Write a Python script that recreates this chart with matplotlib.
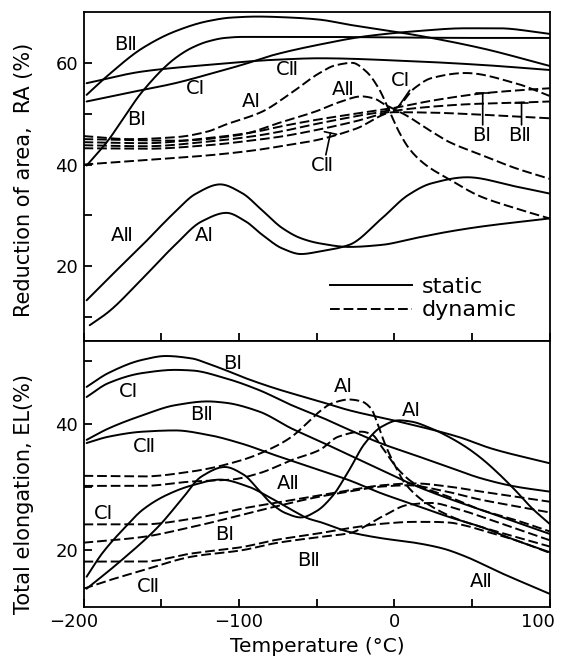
import numpy as np
import matplotlib
matplotlib.use("Agg")
import matplotlib.pyplot as plt
from matplotlib.lines import Line2D
from matplotlib.transforms import ScaledTranslation

# ---------------- Top panel: Reduction of area RA (%) ----------------
# static
ra_BII_s_T = [-198, -184, -162, -141, -120, -105, -88, -66, -48, -29, 13, 56, 100]
ra_BII_s = [53.7, 57.6, 62.9, 66.2, 68.2, 68.9, 69.1, 68.9, 68.5, 67.5, 65.5, 62.9, 59.4]
ra_BI_s_T = [-198, -184, -175, -162, -141, -130, -120, -109, -98, -50, 0, 50, 100]
ra_BI_s = [39.8, 44.8, 48.8, 54.4, 60.9, 63.0, 64.2, 64.9, 65.1, 65.1, 65.0, 64.9, 64.9]
ra_CII_s_T = [-198, -162, -120, -77, -48, 13, 56, 100]
ra_CII_s = [56.0, 58.3, 59.6, 60.6, 60.9, 60.3, 59.6, 58.6]
ra_CI_s_T = [-198, -173, -141, -120, -98, -77, -48, -19, 13, 46, 67, 100]
ra_CI_s = [52.4, 54.0, 56.0, 57.7, 59.6, 61.6, 63.6, 65.2, 66.2, 66.8, 66.8, 65.7]
ra_AII_s_T = [-198, -184, -162, -141, -128, -112, -98, -85, -72, -60, -48, -29, -8, 13, 35, 56, 100]
ra_AII_s = [13.3, 17.6, 24.2, 30.7, 34.2, 36.1, 34.4, 31.0, 27.5, 25.5, 24.5, 23.8, 24.2, 25.5, 26.8, 27.8, 29.4]
ra_AI_s_T = [-196, -184, -162, -141, -124, -108, -96, -85, -72, -60, -48, -29, -8, 9, 24, 47, 78, 100]
ra_AI_s = [8.4, 11.0, 17.6, 24.2, 28.8, 30.5, 28.9, 26.2, 23.5, 22.4, 22.9, 24.2, 29.4, 34.0, 36.3, 37.5, 35.7, 34.3]
# dynamic
ra_AI_d_T = [-200, -170, -140, -120, -109, -85, -68, -48, -38, -27, -18, -10, -3, 3, 10, 20, 36, 55, 77, 100]
ra_AI_d = [45.6, 45.0, 45.4, 46.5, 47.8, 50.4, 53.7, 58.0, 59.5, 60.0, 58.3, 55.0, 50.5, 46.5, 43.0, 40.0, 37.0, 33.8, 31.5, 29.4]
ra_AII_d_T = [-200, -140, -100, -73, -50, -35, -21, -13, -6, 0, 7, 24, 35, 56, 78, 100]
ra_AII_d = [45.0, 44.7, 45.8, 48.3, 50.5, 52.3, 53.4, 53.0, 51.8, 50.9, 49.8, 46.5, 44.5, 41.9, 39.3, 37.2]
ra_CI_d_T = [-200, -160, -120, -90, -73, -50, -25, 1, 13, 24, 46, 78, 100]
ra_CI_d = [43.8, 43.6, 44.5, 45.6, 46.5, 48.0, 49.5, 51.1, 55.0, 57.0, 58.0, 56.0, 53.5]
ra_BI_d_T = [-200, -160, -120, -90, -73, -50, -25, 1, 25, 57, 80, 100]
ra_BI_d = [44.4, 44.2, 45.2, 46.4, 47.5, 48.8, 50.0, 51.2, 52.6, 54.0, 54.6, 55.0]
ra_BII_d_T = [-200, -160, -120, -90, -73, -50, -25, 1, 25, 50, 82, 100]
ra_BII_d = [43.2, 43.1, 43.8, 44.8, 45.5, 46.8, 48.5, 50.6, 51.4, 51.9, 52.2, 52.4]
ra_CII_d_T = [-200, -160, -120, -90, -73, -50, -25, 0, 25, 50, 75, 100]
ra_CII_d = [40.0, 40.9, 41.8, 42.8, 43.6, 44.8, 47.0, 50.3, 50.2, 49.9, 49.5, 49.1]

# ---------------- Bottom panel: Total elongation EL (%) ----------------
el_BI_s_T = [-198, -184, -162, -147, -130, -120, -109, -98, -77, -48, -29, 3, 41, 63, 100]
el_BI_s = [45.9, 48.1, 50.2, 50.8, 50.4, 49.6, 48.6, 47.5, 45.7, 43.6, 42.2, 40.4, 38.0, 36.1, 33.8]
el_CI_s_T = [-198, -184, -162, -141, -130, -109, -87, -66, -48, -29, -8, 13, 35, 56, 78, 100]
el_CI_s = [44.3, 46.5, 48.1, 48.6, 48.5, 47.3, 45.4, 43.0, 41.2, 39.1, 36.9, 35.1, 33.2, 31.4, 30.1, 29.3]
el_BII_s_T = [-198, -184, -162, -141, -120, -109, -87, -66, -48, -29, -8, 13, 35, 56, 78, 100]
el_BII_s = [37.5, 39.3, 41.4, 43.0, 43.6, 43.4, 42.0, 39.3, 37.3, 35.1, 32.7, 30.3, 28.2, 26.4, 24.5, 22.6]
el_CII_s_T = [-198, -184, -162, -141, -120, -98, -77, -48, -29, -8, 13, 35, 56, 78, 100]
el_CII_s = [37.0, 38.0, 38.8, 39.0, 38.3, 36.9, 35.1, 32.7, 31.1, 29.0, 27.2, 25.3, 23.7, 21.6, 19.7]
el_AI_s_T = [-198, -178, -152, -137, -124, -109, -97, -87, -79, -70, -60, -50, -40, -29, -19, -8, 3, 11, 24, 35, 46, 56, 67, 78, 89, 100]
el_AI_s = [13.9, 17.9, 23.7, 28.0, 31.7, 33.2, 32.0, 29.5, 27.4, 25.9, 25.2, 26.2, 28.5, 32.7, 36.9, 39.6, 40.6, 40.4, 39.3, 38.0, 36.4, 34.6, 32.2, 29.5, 26.6, 24.2]
el_AII_s_T = [-198, -188, -173, -162, -147, -130, -112, -94, -81, -66, -55, -48, -29, -8, 13, 31, 46, 67, 100]
el_AII_s = [15.8, 19.5, 23.7, 26.4, 28.7, 30.3, 31.2, 30.1, 28.5, 26.4, 25.0, 24.5, 22.9, 21.9, 21.2, 20.3, 19.0, 16.6, 13.1]
el_AI_d_T = [-200, -162, -130, -98, -77, -66, -55, -48, -40, -29, -21, -15, -10, -6, 1, 7, 20, 40, 60, 80, 100]
el_AI_d = [31.8, 31.7, 32.5, 34.3, 36.4, 38.0, 40.4, 42.0, 43.3, 43.9, 43.6, 42.5, 39.6, 36.9, 33.2, 30.6, 27.6, 25.0, 23.4, 22.0, 20.6]
el_AII_d_T = [-200, -162, -130, -105, -87, -66, -48, -36, -21, -14, -8, 3, 13, 35, 56, 78, 100]
el_AII_d = [30.2, 30.2, 30.9, 31.2, 32.2, 34.3, 35.9, 38.0, 38.8, 38.3, 36.4, 32.7, 30.6, 28.5, 26.4, 24.8, 23.0]
el_CI_d_T = [-200, -162, -130, -98, -77, -48, -29, -8, 13, 35, 56, 78, 100]
el_CI_d = [24.1, 24.1, 25.0, 26.6, 27.5, 28.7, 29.5, 30.3, 30.6, 30.1, 29.3, 28.5, 27.7]
el_BI_d_T = [-200, -162, -130, -98, -77, -48, -29, -8, 9, 30, 56, 78, 100]
el_BI_d = [21.2, 22.1, 23.7, 25.6, 26.9, 28.5, 29.3, 30.1, 30.3, 29.5, 28.0, 27.0, 26.0]
el_BII_d_T = [-200, -162, -130, -98, -77, -48, -29, -8, 13, 24, 35, 46, 56, 78, 100]
el_BII_d = [18.2, 18.2, 19.5, 20.5, 21.6, 22.7, 23.5, 24.2, 24.5, 24.5, 24.4, 23.9, 23.2, 21.6, 19.6]
el_CII_d_T = [-200, -184, -162, -130, -98, -77, -48, -29, -8, 9, 24, 40, 60, 80, 100]
el_CII_d = [13.9, 15.2, 16.8, 19.0, 20.0, 21.1, 22.1, 22.7, 25.3, 27.2, 27.5, 26.6, 25.0, 23.3, 21.6]

x_ticks = [-200, -150, -100, -50, 0, 50, 100]
x_ticklabels = ["\u2212200", "", "\u2212100", "", "0", "", "100"]
ra_ticks = [10, 20, 30, 40, 50, 60]
ra_ticklabels = ["", "20", "", "40", "", "60"]
el_ticks = [20, 30, 40, 50]
el_ticklabels = ["20", "", "40", ""]

I1, I2 = "\u2160", "\u2161"


def smooth(t, v, n=400):
    t = np.asarray(t, float)
    v = np.asarray(v, float)
    h = np.diff(t)
    d = np.diff(v) / h
    m = np.zeros_like(v)
    m[0], m[-1] = d[0], d[-1]
    for k in range(1, len(t) - 1):
        if d[k - 1] * d[k] <= 0:
            m[k] = 0.0
        else:
            w1 = 2 * h[k] + h[k - 1]
            w2 = h[k] + 2 * h[k - 1]
            m[k] = (w1 + w2) / (w1 / d[k - 1] + w2 / d[k])
    tt = np.linspace(t[0], t[-1], n)
    idx = np.clip(np.searchsorted(t, tt, side="right") - 1, 0, len(t) - 2)
    hk = h[idx]
    s = (tt - t[idx]) / hk
    h00 = 2 * s**3 - 3 * s**2 + 1
    h10 = s**3 - 2 * s**2 + s
    h01 = -2 * s**3 + 3 * s**2
    h11 = s**3 - s**2
    yy = h00 * v[idx] + h10 * hk * m[idx] + h01 * v[idx + 1] + h11 * hk * m[idx + 1]
    return tt, yy


LW = 1.4
DASH = (5, 2)

fig = plt.figure(figsize=(5.62, 6.62), dpi=100)
ax1 = fig.add_axes([0.14858, 0.48414, 0.82918, 0.49773])
ax2 = fig.add_axes([0.14858, 0.08308, 0.82918, 0.40106])


def draw(ax, t, v, dashed=False):
    tt, yy = smooth(t, v)
    ln, = ax.plot(tt, yy, color="black", lw=LW, solid_capstyle="round")
    if dashed:
        ln.set_dashes(DASH)


for t, v in [(ra_BII_s_T, ra_BII_s), (ra_BI_s_T, ra_BI_s), (ra_CII_s_T, ra_CII_s),
             (ra_CI_s_T, ra_CI_s), (ra_AII_s_T, ra_AII_s), (ra_AI_s_T, ra_AI_s)]:
    draw(ax1, t, v)
for t, v in [(ra_AI_d_T, ra_AI_d), (ra_AII_d_T, ra_AII_d), (ra_CI_d_T, ra_CI_d),
             (ra_BI_d_T, ra_BI_d), (ra_BII_d_T, ra_BII_d), (ra_CII_d_T, ra_CII_d)]:
    draw(ax1, t, v, dashed=True)

for t, v in [(el_BI_s_T, el_BI_s), (el_CI_s_T, el_CI_s), (el_BII_s_T, el_BII_s),
             (el_CII_s_T, el_CII_s), (el_AI_s_T, el_AI_s), (el_AII_s_T, el_AII_s)]:
    draw(ax2, t, v)
for t, v in [(el_AI_d_T, el_AI_d), (el_AII_d_T, el_AII_d), (el_CI_d_T, el_CI_d),
             (el_BI_d_T, el_BI_d), (el_BII_d_T, el_BII_d), (el_CII_d_T, el_CII_d)]:
    draw(ax2, t, v, dashed=True)

ax1.set_xlim(-200, 100)
ax2.set_xlim(-200, 100)
ax1.set_ylim(5.2, 70.0)
ax2.set_ylim(11.0, 53.1)

FS_T = 13
for ax in (ax1, ax2):
    for sp in ax.spines.values():
        sp.set_linewidth(1.3)
    ax.tick_params(direction="in", length=6, width=1.3, labelsize=FS_T,
                   top=False, right=False)
    ax.set_xticks(x_ticks)
ax1.set_xticklabels([])
ax2.set_xticklabels(x_ticklabels)
ax2.tick_params(axis="x", pad=4)
ax1.set_yticks(ra_ticks)
ax1.set_yticklabels(ra_ticklabels)
ax2.set_yticks(el_ticks)
ax2.set_yticklabels(el_ticklabels)
ax1.tick_params(axis="y", pad=4)
ax2.tick_params(axis="y", pad=4)

# shift the end x tick labels as in the reference
xl = ax2.get_xticklabels()
xl[0].set_transform(xl[0].get_transform() + ScaledTranslation(-0.10, 0, fig.dpi_scale_trans))
xl[-1].set_transform(xl[-1].get_transform() + ScaledTranslation(-0.12, 0, fig.dpi_scale_trans))

FS_L = 14
lab = dict(fontsize=FS_L, ha="center", va="center")
# top labels
ax1.text(-173, 63.6, "B" + I2, **lab)
ax1.text(-128, 55.0, "C" + I1, **lab)
ax1.text(-166, 48.8, "B" + I1, **lab)
ax1.text(-69, 58.6, "C" + I2, **lab)
ax1.text(-92, 52.4, "A" + I1, **lab)
ax1.text(-175, 26.1, "A" + I2, **lab)
ax1.text(-122, 26.1, "A" + I1, **lab)
ax1.text(-33, 54.7, "A" + I2, **lab)
ax1.text(4, 56.5, "C" + I1, **lab)
ax1.text(-46, 39.9, "C" + I2, **lab)
ax1.text(56, 45.8, "B" + I1, **lab)
ax1.text(81, 45.8, "B" + I2, **lab)

mk = dict(arrowstyle="-[, widthB=0.45, lengthB=0", lw=1.2, color="black",
          shrinkA=0, shrinkB=0)
ax1.annotate("", xy=(57, 54.0), xytext=(57, 47.8), arrowprops=mk)
ax1.annotate("", xy=(82, 52.2), xytext=(82, 47.8), arrowprops=mk)
ax1.annotate("", xy=(-41, 46.2), xytext=(-44, 41.9), arrowprops=mk)
ax1.annotate("", xy=(3, 51.5), xytext=(10, 54.6),
             arrowprops=dict(arrowstyle="-", lw=1.2, color="black", shrinkA=0, shrinkB=0))

# bottom labels
ax2.text(-104, 49.6, "B" + I1, **lab)
ax2.text(-171, 45.1, "C" + I1, **lab)
ax2.text(-124, 41.6, "B" + I2, **lab)
ax2.text(-161, 36.4, "C" + I2, **lab)
ax2.text(-187, 25.8, "C" + I1, **lab)
ax2.text(-109, 22.5, "B" + I1, **lab)
ax2.text(-55, 18.4, "B" + I2, **lab)
ax2.text(-158, 14.2, "C" + I2, **lab)
ax2.text(-68, 30.6, "A" + I2, **lab)
ax2.text(-33, 45.9, "A" + I1, **lab)
ax2.text(11, 42.2, "A" + I1, **lab)
ax2.text(56, 15.0, "A" + I2, **lab)

# legend
h_s = Line2D([], [], color="black", lw=LW)
h_d = Line2D([], [], color="black", lw=LW, dashes=DASH)
ax1.legend([h_s, h_d], ["static", "dynamic"], loc="center left",
           bbox_to_anchor=(0.529, 0.130), frameon=False, handlelength=3.7,
           handletextpad=0.45, labelspacing=0.15, borderpad=0, borderaxespad=0,
           fontsize=16)

fig.text(0.0427, 0.728, "Reduction of area,  RA (%)", rotation=90,
         ha="center", va="center", fontsize=15)
fig.text(0.0427, 0.2545, "Total elongation, EL(%)", rotation=90,
         ha="center", va="center", fontsize=15)
fig.text(0.5645, 1 - 646 / 662, "Temperature (\u00b0C)", ha="center",
         va="center", fontsize=14.5)

fig.savefig("out.png", dpi=100)
